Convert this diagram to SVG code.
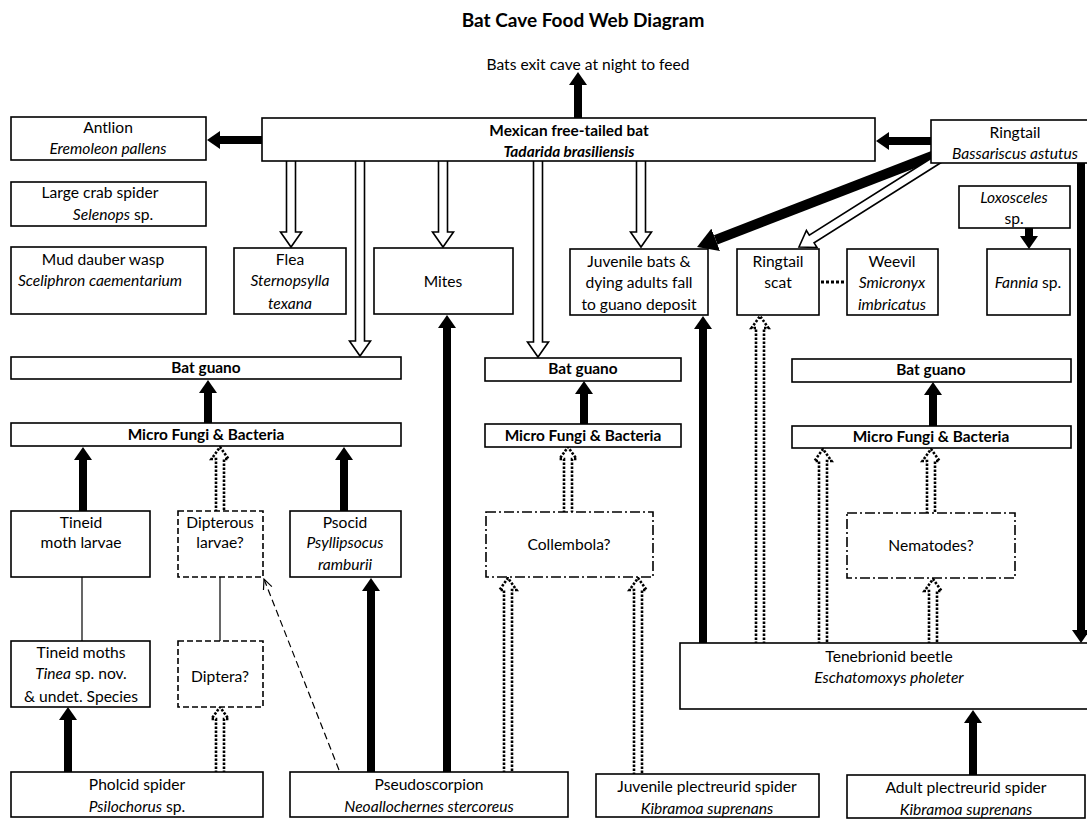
<svg xmlns="http://www.w3.org/2000/svg" width="1087" height="819" viewBox="0 0 1087 819">
<style>
text{font-family:Lato,"Liberation Sans",sans-serif;font-size:15.6px;fill:#000;text-anchor:middle}
.b{font-weight:bold;font-size:15.4px}
.i{font-style:italic}
.t{font-size:19px;font-weight:bold}
rect{fill:#fff;stroke:#000;stroke-width:1.6}
.dash{stroke-dasharray:6 3}
.dd{stroke-dasharray:10 3 2 3}
.blk{stroke:#000;stroke-width:8;fill:none;marker-end:url(#hb)}
.blkL{stroke:#000;stroke-width:10;fill:none;marker-end:url(#hbL)}
.hol{fill:#fff;stroke:#000;stroke-width:1.6;stroke-linejoin:miter}
.dot{fill:#fff;stroke:#000;stroke-width:2.6;stroke-dasharray:2.4 1.6}
.thin{stroke:#000;stroke-width:1.2;fill:none}
</style>
<defs>
<marker id="hb" markerUnits="userSpaceOnUse" viewBox="0 0 13 18" markerWidth="13" markerHeight="18" refX="0" refY="9" orient="auto"><path d="M0,0 L13,9 L0,18 Z" fill="#000"/></marker>
<marker id="hbL" markerUnits="userSpaceOnUse" viewBox="0 0 20 24" markerWidth="20" markerHeight="24" refX="0" refY="12" orient="auto"><path d="M0,0 L20,12 L0,24 Z" fill="#000"/></marker>
<marker id="ho" markerUnits="userSpaceOnUse" viewBox="-11 -6 12 12" markerWidth="12" markerHeight="12" refX="0" refY="0" orient="auto"><path d="M-10,-4.5 L0,0 L-10,4.5" fill="none" stroke="#000" stroke-width="1.2"/></marker>
</defs>
<text class="t" x="583" y="27">Bat Cave Food Web Diagram</text>
<text x="588" y="70">Bats exit cave at night to feed</text>
<g id="connectors">
<line class="blk" x1="578" y1="120" x2="578" y2="85"/>
<line class="blk" x1="263" y1="140" x2="220" y2="140"/>
<line class="blk" x1="932" y1="141" x2="889" y2="141"/>
<line class="blkL" x1="935" y1="155" x2="715.7" y2="239.8"/>
<path class="hol" d="M942.4,161.8 L814.1,242.8 L817.0,247.5 L799,247 L806.4,230.5 L809.3,235.2 L937.6,154.2"/>
<line class="blk" x1="1081" y1="162" x2="1081" y2="630"/>
<line class="blk" x1="1029" y1="227" x2="1029" y2="236"/>
<line class="blk" x1="208" y1="424" x2="208" y2="393"/>
<line class="blk" x1="584" y1="425" x2="584" y2="394"/>
<line class="blk" x1="933" y1="427" x2="933" y2="395"/>
<line class="blk" x1="83" y1="512" x2="83" y2="460"/>
<line class="blk" x1="344" y1="512" x2="344" y2="460"/>
<line class="blk" x1="447" y1="773" x2="447" y2="328"/>
<line class="blk" x1="371" y1="773" x2="371" y2="591"/>
<line class="blk" x1="68" y1="773" x2="68" y2="720"/>
<line class="blk" x1="703" y1="644" x2="703" y2="329"/>
<line class="blk" x1="973" y1="776" x2="973" y2="723"/>
<path class="hol" d="M286.5,158 V232 H280.5 L291,247 L301.5,232 H295.5 V158"/>
<path class="hol" d="M355.5,158 V341 H349.5 L360,356 L370.5,341 H364.5 V158"/>
<path class="hol" d="M438.5,158 V232 H432.5 L443,247 L453.5,232 H447.5 V158"/>
<path class="hol" d="M533.5,158 V342 H527.5 L538,357 L548.5,342 H542.5 V158"/>
<path class="hol" d="M636.5,158 V232 H630.5 L641,247 L651.5,232 H645.5 V158"/>
<path class="dot" d="M216,512 V459 H211.5 L220,447 L228.5,459 H224 V512"/>
<path class="dot" d="M216,773 V719 H211.5 L220,707 L228.5,719 H224 V773"/>
<path class="dot" d="M564,513 V459 H559.5 L568,447 L576.5,459 H572 V513"/>
<path class="dot" d="M504,773 V590 H499.5 L508,578 L516.5,590 H512 V773"/>
<path class="dot" d="M634,775 V590 H629.5 L638,578 L646.5,590 H642 V775"/>
<path class="dot" d="M756,644 V328 H751.5 L760,316 L768.5,328 H764 V644"/>
<path class="dot" d="M819,644 V461 H814.5 L823,449 L831.5,461 H827 V644"/>
<path class="dot" d="M927,514 V461 H922.5 L931,449 L939.5,461 H935 V514"/>
<path class="dot" d="M929,644 V591 H924.5 L933,579 L941.5,591 H937 V644"/>
<line class="thin" x1="82" y1="577" x2="82" y2="641"/>
<line class="thin" x1="220" y1="577" x2="220" y2="641"/>
<line x1="821" y1="282" x2="845" y2="282" stroke="#000" stroke-width="3" stroke-dasharray="3 2"/>
<line x1="339" y1="770" x2="264" y2="579" stroke="#000" stroke-width="1.2" stroke-dasharray="7 4" marker-end="url(#ho)"/>
</g>
<g id="antlion"><rect x="11" y="117" width="195" height="43"/><text x="108" y="133">Antlion</text><text class="i" x="108" y="154">Eremoleon pallens</text></g>
<g id="crab-spider"><rect x="11" y="182" width="195" height="44"/><text x="100" y="198">Large crab spider</text><text x="113" y="220"><tspan class="i">Selenops</tspan> sp.</text></g>
<g id="mud-dauber"><rect x="11" y="247" width="195" height="67"/><text x="103" y="265">Mud dauber wasp</text><text class="i" x="100" y="286">Sceliphron caementarium</text></g>
<g id="bat"><rect x="262" y="118" width="613" height="43"/><text class="b" x="569" y="136">Mexican free-tailed bat</text><text class="b i" x="569" y="157">Tadarida brasiliensis</text></g>
<g id="ringtail"><rect x="931" y="120" width="170" height="43"/><text x="1015" y="138">Ringtail</text><text class="i" x="1015" y="159">Bassariscus astutus</text></g>
<g id="flea"><rect x="234" y="248" width="112" height="66"/><text x="290" y="265">Flea</text><text class="i" x="290" y="286">Sternopsylla</text><text class="i" x="290" y="309">texana</text></g>
<g id="mites"><rect x="374" y="248" width="139" height="66"/><text x="443" y="287">Mites</text></g>
<g id="juvenile-bats"><rect x="570" y="249" width="138" height="66"/><text x="639" y="267">Juvenile bats &amp;</text><text x="639" y="288">dying adults fall</text><text x="639" y="310">to guano deposit</text></g>
<g id="ringtail-scat"><rect x="737" y="249" width="82" height="66"/><text x="778" y="267">Ringtail</text><text x="778" y="288">scat</text></g>
<g id="weevil"><rect x="847" y="249" width="91" height="66"/><text x="892" y="267">Weevil</text><text class="i" x="892" y="288">Smicronyx</text><text class="i" x="892" y="310">imbricatus</text></g>
<g id="loxosceles"><rect x="959" y="186" width="111" height="42"/><text class="i" x="1014" y="203">Loxosceles</text><text x="1014" y="224">sp.</text></g>
<g id="fannia"><rect x="987" y="249" width="83" height="66"/><text x="1028" y="288"><tspan class="i">Fannia</tspan> sp.</text></g>
<g id="guano-left"><rect x="11" y="357" width="390" height="22"/><text class="b" x="206" y="373">Bat guano</text></g>
<g id="guano-mid"><rect x="485" y="358" width="196" height="23"/><text class="b" x="583" y="374">Bat guano</text></g>
<g id="guano-right"><rect x="792" y="359" width="279" height="23"/><text class="b" x="931" y="375">Bat guano</text></g>
<g id="fungi-left"><rect x="11" y="423" width="390" height="23"/><text class="b" x="206" y="440">Micro Fungi &amp; Bacteria</text></g>
<g id="fungi-mid"><rect x="485" y="424" width="196" height="23"/><text class="b" x="583" y="441">Micro Fungi &amp; Bacteria</text></g>
<g id="fungi-right"><rect x="792" y="426" width="279" height="22"/><text class="b" x="931" y="442">Micro Fungi &amp; Bacteria</text></g>
<g id="tineid-larvae"><rect x="11" y="511" width="139" height="66"/><text x="81" y="528">Tineid</text><text x="81" y="548">moth larvae</text></g>
<g id="dipterous-larvae"><rect class="dash" x="178" y="511" width="85" height="66"/><text x="220" y="528">Dipterous</text><text x="220" y="548">larvae?</text></g>
<g id="psocid"><rect x="290" y="511" width="111" height="66"/><text x="345" y="528">Psocid</text><text class="i" x="345" y="548">Psyllipsocus</text><text class="i" x="345" y="570">ramburii</text></g>
<g id="collembola"><rect class="dd" x="486" y="512" width="167" height="65"/><text x="569" y="550">Collembola?</text></g>
<g id="nematodes"><rect class="dd" x="847" y="513" width="168" height="65"/><text x="931" y="551">Nematodes?</text></g>
<g id="tineid-moths"><rect x="11" y="641" width="139" height="66"/><text x="81" y="658">Tineid moths</text><text x="81" y="679"><tspan class="i">Tinea</tspan> sp. nov.</text><text x="81" y="702">&amp; undet. Species</text></g>
<g id="diptera"><rect class="dash" x="178" y="641" width="85" height="66"/><text x="220" y="682">Diptera?</text></g>
<g id="tenebrionid"><rect x="680" y="643" width="420" height="66"/><text x="889" y="662">Tenebrionid beetle</text><text class="i" x="889" y="683">Eschatomoxys pholeter</text></g>
<g id="pholcid"><rect x="11" y="772" width="252" height="45"/><text x="137" y="790">Pholcid spider</text><text x="137" y="812"><tspan class="i">Psilochorus</tspan> sp.</text></g>
<g id="pseudoscorpion"><rect x="290" y="772" width="278" height="45"/><text x="429" y="790">Pseudoscorpion</text><text class="i" x="429" y="812">Neoallochernes stercoreus</text></g>
<g id="juvenile-plectreurid"><rect x="596" y="774" width="223" height="43"/><text x="707" y="792">Juvenile plectreurid spider</text><text class="i" x="707" y="814">Kibramoa suprenans</text></g>
<g id="adult-plectreurid"><rect x="847" y="775" width="238" height="43"/><text x="966" y="793">Adult plectreurid spider</text><text class="i" x="966" y="815">Kibramoa suprenans</text></g>
</svg>
